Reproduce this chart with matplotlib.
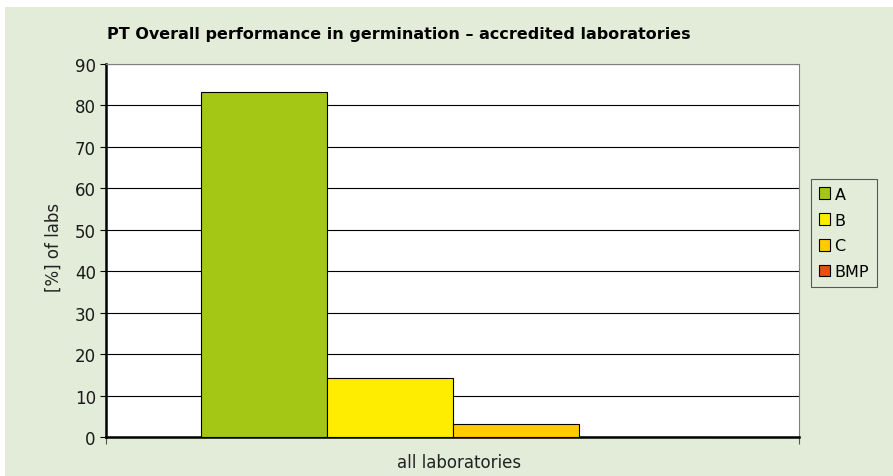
import matplotlib.pyplot as plt
import numpy as np
from matplotlib.patches import Rectangle

plt.rcParams["font.family"] = ["DejaVu Sans"]

categories = ["all laboratories"]
series = ["A", "B", "C", "BMP"]
values = [83.2, 14.2, 3.2, 0.0]
colors = ["#a4c615", "#ffed00", "#ffcc00", "#e8500f"]
yticks = [0, 10, 20, 30, 40, 50, 60, 70, 80, 90]

W, H = 893, 477
fig = plt.figure(figsize=(W / 100, H / 100), dpi=100)
fig.patch.set_facecolor("white")
fig.patches.append(Rectangle((5 / W, 0), 1 - 5 / W, 1 - 8 / H, transform=fig.transFigure,
                             facecolor="#e2ecd8", edgecolor="none", zorder=-10))

# plot area in pixels: x 106..799, y 65..438
ax = fig.add_axes([106 / W, 1 - 438 / H, (799 - 106) / W, (438 - 65) / H])
ax.set_facecolor("white")

bar_w = 126 / 693
x0 = -0.5 + (201 - 106) / 693
for i, (name, v, c) in enumerate(zip(series, values, colors)):
    ax.bar(x0 + i * bar_w, v, width=bar_w, align="edge", color=c,
           edgecolor="black", linewidth=0.8, label=name, zorder=3)

ax.set_xlim(-0.5, 0.5)
ax.set_ylim(0, 90)
ax.set_yticks(yticks)
ax.yaxis.grid(True, color="black", linewidth=0.8, zorder=0)
ax.set_axisbelow(True)
ax.set_xticks([-0.5, 0.5])
ax.set_xticklabels([])
ax.tick_params(axis="x", direction="out", length=5, width=0.8, color="#555555")
ax.tick_params(axis="y", direction="out", length=4.3, width=0.8, labelsize=12,
               pad=3, labelcolor="#1a1a1a")

for s in ["left", "bottom"]:
    ax.spines[s].set_linewidth(1.8)
    ax.spines[s].set_color("black")
for s in ["top", "right"]:
    ax.spines[s].set_linewidth(0.8)
    ax.spines[s].set_color("#808080")

fig.text(54 / W, 1 - 247 / H, "[%] of labs", fontsize=12, rotation=90,
         ha="center", va="center", color="#222222")
fig.text(459 / W, 1 - 463 / H, categories[0], fontsize=12, ha="center", va="center",
         color="#222222")
fig.text(107 / W, 1 - 35 / H, "PT Overall performance in germination \u2013 accredited laboratories",
         fontsize=11.5, fontweight="bold", va="center", ha="left")

leg = ax.legend(loc="center left", bbox_to_anchor=(811 / W, 1 - 234 / H),
                bbox_transform=fig.transFigure, frameon=True, fancybox=False,
                fontsize=11.5, handlelength=0.72, handleheight=0.72, handletextpad=0.25,
                labelspacing=0.68, borderpad=0.5, borderaxespad=0)
leg.get_frame().set_edgecolor("#333333")
leg.get_frame().set_facecolor("#e2ecd8")
leg.get_frame().set_linewidth(0.8)

fig.savefig("out.png", dpi=100)
